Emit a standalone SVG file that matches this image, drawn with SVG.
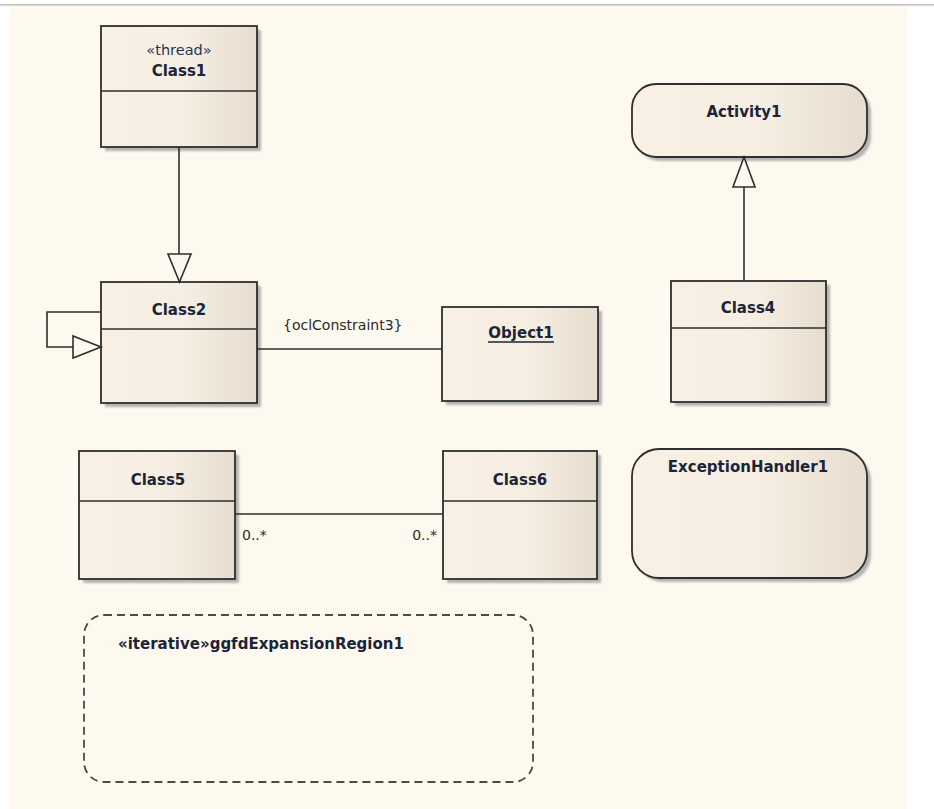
<svg xmlns="http://www.w3.org/2000/svg" width="934" height="809" viewBox="0 0 934 809">
<defs>
<linearGradient id="nodeFill" x1="0" y1="0" x2="1" y2="0">
<stop offset="0" stop-color="#f8f0e4"/>
<stop offset="0.55" stop-color="#f6eee2"/>
<stop offset="1" stop-color="#e6ddcf"/>
</linearGradient>
<filter id="shadow" x="-10%" y="-10%" width="130%" height="130%">
<feGaussianBlur stdDeviation="1.2"/>
</filter>
</defs>
<style>
.node{fill:url(#nodeFill);stroke:#2e2e2e;stroke-width:1.8}
.shadow{fill:#b4b4b4;filter:url(#shadow)}
.div{stroke:#2e2e2e;stroke-width:1.6}
.name{font-family:"DejaVu Sans",sans-serif;font-weight:bold;font-size:15px;fill:#1c2438;text-anchor:middle}
.start{text-anchor:start}
.stereo{font-family:"DejaVu Sans",sans-serif;font-size:14.5px;fill:#24355a;text-anchor:middle}
.label{font-family:"DejaVu Sans",sans-serif;font-size:14px;fill:#2a2a2a}
.end{text-anchor:end}
.conn{fill:none;stroke:#2e2e2e;stroke-width:1.6}
.head{fill:#fdf8ee;stroke:#2e2e2e;stroke-width:1.6}
.region{fill:none;stroke:#4a4a4a;stroke-width:1.8;stroke-dasharray:8 5}
</style>
<rect x="0" y="0" width="934" height="809" fill="#ffffff"/>
<rect x="10" y="5" width="897" height="804" fill="#fef9ef"/>
<rect x="0" y="4" width="934" height="1.6" fill="#c2c2c2"/>

<g id="Class1">
<rect class="shadow" x="105" y="30" width="156" height="121"/>
<rect class="node" x="101" y="26" width="156" height="121"/>
<line class="div" x1="101" y1="91" x2="257" y2="91"/>
<text class="stereo" x="179" y="55">«thread»</text>
<text class="name" x="179" y="76">Class1</text>
</g>

<g id="Class2">
<rect class="shadow" x="105" y="286" width="156" height="121"/>
<rect class="node" x="101" y="282" width="156" height="121"/>
<line class="div" x1="101" y1="329" x2="257" y2="329"/>
<text class="name" x="179" y="315">Class2</text>
</g>

<g id="Object1">
<rect class="shadow" x="446" y="311" width="156" height="94"/>
<rect class="node" x="442" y="307" width="156" height="94"/>
<text class="name" x="521" y="338">Object1</text>
<line x1="488" y1="342" x2="554" y2="342" stroke="#1c2438" stroke-width="1.4"/>
</g>

<g id="Activity1">
<rect class="shadow" x="636" y="88" width="235" height="73" rx="24"/>
<rect class="node" x="632" y="84" width="235" height="73" rx="24"/>
<text class="name" x="744" y="117">Activity1</text>
</g>

<g id="Class4">
<rect class="shadow" x="675" y="285" width="155" height="121"/>
<rect class="node" x="671" y="281" width="155" height="121"/>
<line class="div" x1="671" y1="328" x2="826" y2="328"/>
<text class="name" x="748" y="313">Class4</text>
</g>

<g id="Class5">
<rect class="shadow" x="83" y="455" width="156" height="128"/>
<rect class="node" x="79" y="451" width="156" height="128"/>
<line class="div" x1="79" y1="501" x2="235" y2="501"/>
<text class="name" x="158" y="485">Class5</text>
</g>

<g id="Class6">
<rect class="shadow" x="447" y="455" width="154" height="128"/>
<rect class="node" x="443" y="451" width="154" height="128"/>
<line class="div" x1="443" y1="501" x2="597" y2="501"/>
<text class="name" x="520" y="485">Class6</text>
</g>

<g id="ExceptionHandler1">
<rect class="shadow" x="636" y="453" width="235" height="129" rx="27"/>
<rect class="node" x="632" y="449" width="235" height="129" rx="27"/>
<text class="name" x="748" y="472">ExceptionHandler1</text>
</g>

<g id="ExpansionRegion1">
<rect class="region" x="84" y="615" width="449" height="167" rx="20"/>
<text class="name start" x="118" y="649">«iterative»ggfdExpansionRegion1</text>
</g>

<g id="connectors">
<line class="conn" x1="179" y1="147" x2="179" y2="254"/>
<polygon class="head" points="168,254 191,254 179.5,282"/>
<polyline class="conn" points="101,312 47,312 47,347 73,347"/>
<polygon class="head" points="73,336 73,358 101,347"/>
<line class="conn" x1="257" y1="349" x2="442" y2="349"/>
<text class="label" x="283" y="330">{oclConstraint3}</text>
<line class="conn" x1="744" y1="281" x2="744" y2="187"/>
<polygon class="head" points="733,187 755,187 744,157"/>
<line class="conn" x1="235" y1="514" x2="443" y2="514"/>
<text class="label" x="242" y="540">0..*</text>
<text class="label end" x="437" y="540">0..*</text>
</g>
</svg>
